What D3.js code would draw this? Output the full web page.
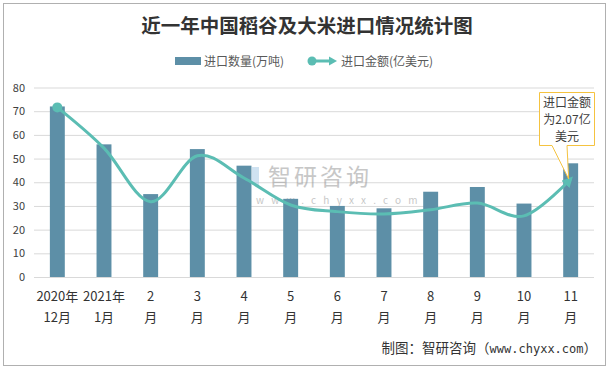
<!DOCTYPE html>
<html><head><meta charset="utf-8">
<script src="https://cdn.jsdelivr.net/npm/d3@7"></script>
<style>body{margin:0;background:#fff}svg{display:block}</style>
</head><body>
<svg id="c" width="613" height="369"></svg>
<script>
const categories = ["2020年|12月","2021年|1月","2|月","3|月","4|月","5|月","6|月","7|月","8|月","9|月","10|月","11|月"];
const quantity = [72,56,35,54,47,33,30,29,36,38,31,48];          // 进口数量(万吨)
const amount = [3.58,2.72,1.59,2.56,2.09,1.52,1.38,1.33,1.42,1.56,1.29,2.07]; // 进口金额(亿美元)
const yTicks = [0,10,20,30,40,50,60,70,80];

const svg = d3.select("#c");
const font = "'Noto Sans CJK SC','Noto Sans',sans-serif";
const txt = "#404040";

svg.append("rect").attr("x",3.5).attr("y",3.5).attr("width",602).attr("height",362)
  .attr("fill","#fff").attr("stroke","#b0b0b0");

const m = {l:34,r:594,t:87.5,b:277};
const x = d3.scaleBand().domain(d3.range(categories.length)).range([m.l,m.r]).paddingInner(0.68).paddingOuter(0.34);
const y = d3.scaleLinear().domain([0,80]).range([m.b,m.t]);
const y2 = d3.scaleLinear().domain([0,4]).range([m.b,m.t]);

// title
svg.append("text").attr("x",307).attr("y",33).attr("text-anchor","middle")
  .attr("font-family","'Noto Sans CJK SC',serif").attr("font-weight","bold").attr("font-size",19.5)
  .attr("fill","#333").text("近一年中国稻谷及大米进口情况统计图");

// legend
const lg = svg.append("g").attr("font-family",font).attr("font-size",12).attr("fill","#595959");
lg.append("rect").attr("x",175).attr("y",57).attr("width",26).attr("height",8).attr("fill","#5d8fa7");
lg.append("text").attr("x",204).attr("y",65.5).text("进口数量(万吨)");
lg.append("line").attr("x1",312).attr("x2",331).attr("y1",61).attr("y2",61).attr("stroke","#5bbdb3").attr("stroke-width",3);
lg.append("circle").attr("cx",312).attr("cy",61).attr("r",4.5).attr("fill","#5bbdb3");
lg.append("path").attr("d","M329,56.5 L337,61 L329,65.5 Z").attr("fill","#5bbdb3");
lg.append("text").attr("x",341).attr("y",65.5).text("进口金额(亿美元)");

// grid + y axis
const yAxis = d3.axisLeft(y).tickValues(yTicks).tickSize(-(m.r-m.l)).tickPadding(9);
const ga = svg.append("g").attr("transform",`translate(${m.l},0)`).call(yAxis);
ga.select(".domain").remove();
ga.selectAll(".tick line").attr("stroke","#d9d9d9");
ga.selectAll(".tick text").attr("font-family",font).attr("font-size",11).attr("fill",txt);

// watermark
const wm = svg.append("g").attr("opacity",0.55);
wm.append("rect").attr("x",243).attr("y",167).attr("width",7).attr("height",18).attr("fill","#7aa7cc");
wm.append("rect").attr("x",252).attr("y",167).attr("width",7).attr("height",18).attr("fill","#a9cbe6");
wm.append("text").attr("x",268).attr("y",185).attr("font-family",font).attr("font-size",23).attr("fill","#9a9a9a").attr("letter-spacing",3).text("智研咨询");
wm.append("text").attr("x",256).attr("y",204).attr("font-family",font).attr("font-size",10).attr("fill","#9a9a9a").attr("letter-spacing",7.2).text("www.chyxx.com");

// bars
svg.append("g").selectAll("rect").data(quantity).join("rect")
  .attr("x",(d,i)=>x(i)).attr("width",x.bandwidth())
  .attr("y",d=>y(d)).attr("height",d=>y(0)-y(d)).attr("fill","#5d8fa7");

// line
const defs = svg.append("defs");
defs.append("marker").attr("id","arr").attr("viewBox","0 0 10 10").attr("refX",7).attr("refY",5)
  .attr("markerWidth",3.6).attr("markerHeight",3.6).attr("markerUnits","strokeWidth").attr("orient","auto")
  .append("path").attr("d","M0,0 L10,5 L0,10 Z").attr("fill","#5bbdb3");
const cx = i => x(i)+x.bandwidth()/2;
const line = d3.line().x((d,i)=>cx(i)).y(d=>y2(d)).curve(d3.curveCardinal.tension(0));
svg.append("path").datum(amount).attr("d",line).attr("fill","none")
  .attr("stroke","#5bbdb3").attr("stroke-width",3).attr("marker-end","url(#arr)");
svg.append("circle").attr("cx",cx(0)).attr("cy",y2(amount[0])).attr("r",5).attr("fill","#5bbdb3");

// x labels
const xl = svg.append("g").attr("font-family",font).attr("font-size",13).attr("fill","#333").attr("text-anchor","middle");
categories.forEach((c,i)=>{
  const [a,b] = c.split("|");
  xl.append("text").attr("x",cx(i)).attr("y",301).text(a);
  xl.append("text").attr("x",cx(i)).attr("y",322).text(b);
});

// callout
const li = amount.length-1;
const tipX = cx(li), tipY = y2(amount[li]);
const co = svg.append("g");
co.append("path").attr("d",`M539.5,92.5 H594.5 V145.5 H567 L${tipX-2},${tipY} L552,145.5 H539.5 Z`)
  .attr("fill","#fff").attr("stroke","#f5c340").attr("stroke-width",1);
const ct = co.append("g").attr("font-family",font).attr("font-size",12).attr("fill",txt).attr("text-anchor","middle");
ct.append("text").attr("x",567).attr("y",107).text("进口金额");
ct.append("text").attr("x",567).attr("y",124).text("为" + amount[li] + "亿");
ct.append("text").attr("x",567).attr("y",141).text("美元");

// footer
const ft = svg.append("text").attr("x",597).attr("y",353).attr("text-anchor","end").attr("font-size",13.5).attr("fill","#333").attr("font-family",font);
ft.append("tspan").text("制图：智研咨询（");
ft.append("tspan").attr("font-family","'DejaVu Sans Mono','Liberation Mono',monospace").attr("font-size",12).text("www.chyxx.com");
ft.append("tspan").text("）");
</script>
</body></html>
